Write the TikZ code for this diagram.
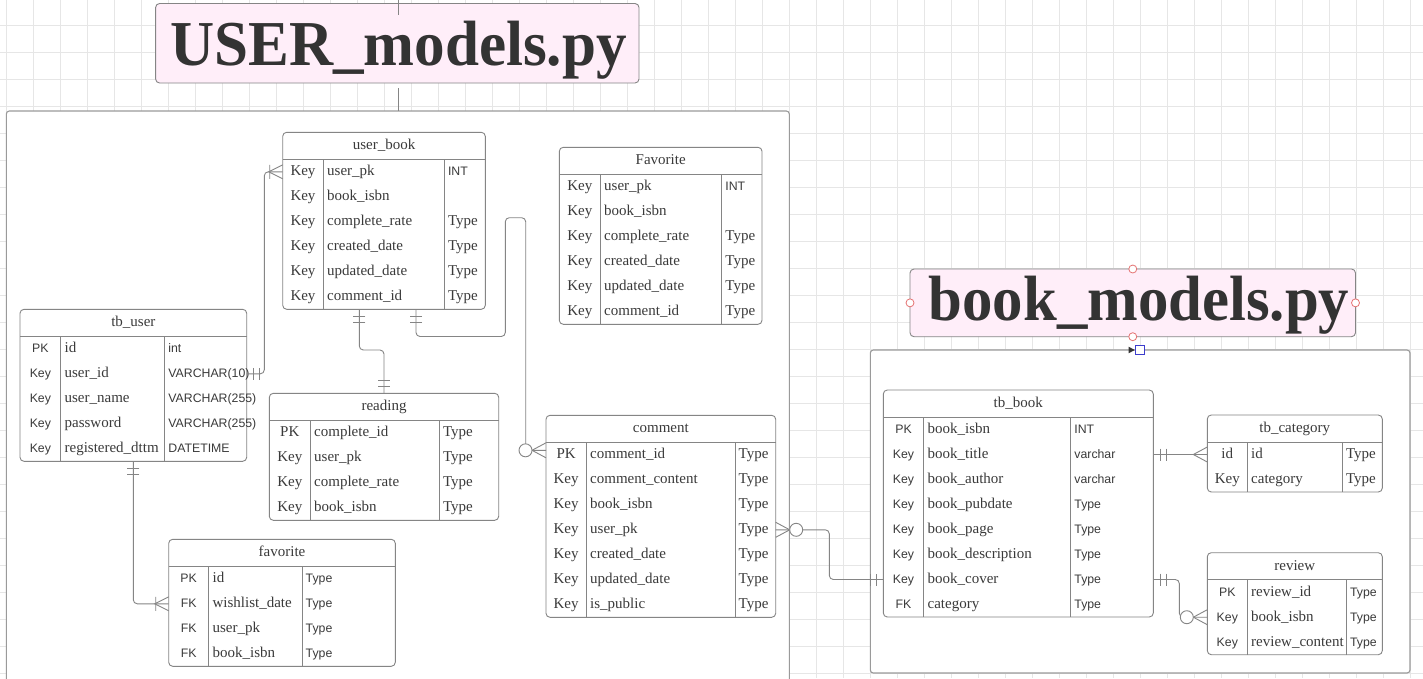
\documentclass[tikz,border=0pt]{standalone}
\usepackage{fontspec}
\setmainfont{Liberation Serif}
\newfontfamily\sansf{Liberation Sans}
\usetikzlibrary{calc}

\definecolor{gridc}{HTML}{E6E6E6}
\definecolor{linec}{HTML}{858585}
\definecolor{txtc}{HTML}{3A3A3A}
\definecolor{titlec}{HTML}{333333}
\definecolor{pinkc}{HTML}{FFEEF9}
\definecolor{contc}{HTML}{9A9A9A}
\definecolor{handlec}{HTML}{E57373}
\definecolor{bluec}{HTML}{3D3DCC}

\tikzset{
  tline/.style={draw=linec, line width=0.9pt},
  conn/.style={draw=linec, line width=0.9pt, rounded corners=4pt},
  tblbox/.style={draw=linec, line width=0.9pt, fill=white, rounded corners=4pt, inner sep=0pt, outer sep=0pt},
  contbox/.style={draw=contc, line width=1.1pt, fill=white, rounded corners=3pt, inner sep=0pt, outer sep=0pt},
  titlebox/.style={draw=linec, line width=0.9pt, fill=pinkc, rounded corners=4pt, inner sep=0pt, outer sep=0pt},
  titletxt/.style={font=\bfseries\fontsize{64}{64}\selectfont, text=titlec, inner sep=0pt, anchor=base, xscale=0.95},
  sertxt/.style={font=\fontsize{15}{18}\selectfont, text=txtc, inner sep=0pt, anchor=base},
  santxt/.style={font=\sansf\fontsize{12.3}{14}\selectfont, text=txtc, inner sep=0pt, anchor=base},
  handle/.style={draw=handlec, line width=0.8pt, fill=white},
}

% table: #1 name, #2 left, #3 top, #4 right, #5 col1, #6 col2, #7 rows, #8 title
\newcommand\ertbl[8]{%
  \pgfmathsetmacro\ertB{#3+27+25*#7}%
  \pgfmathsetmacro\ertH{#3+27}%
  \pgfmathsetmacro\ertW{#4-#2}%
  \pgfmathsetmacro\ertHt{27+25*#7}%
  \pgfmathsetmacro\ertMx{(#2+#4)/2}%
  \pgfmathsetmacro\ertTy{#3+17.3}%
  \xdef\curL{#2}\xdef\curT{#3}\xdef\curR{#4}\xdef\curA{#5}\xdef\curB{#6}\xdef\curN{#1}%
  \node[tblbox, minimum width=\ertW pt, minimum height=\ertHt pt, anchor=north west] (#1) at (#2,#3) {};
  \draw[tline] (#2,\ertH) -- (#4,\ertH) (#5,\ertH) -- (#5,\ertB) (#6,\ertH) -- (#6,\ertB);
  \node[sertxt] (#1-title) at (\ertMx,\ertTy) {#8};
}
% row: #1 index, #2 key style, #3 key, #4 field, #5 type style, #6 type
\newcommand\errow[6]{%
  \pgfmathsetmacro\erY{\curT+27+25*(#1-0.5)}%
  \pgfmathsetmacro\erYb{\erY+3.8}%
  \pgfmathsetmacro\erKx{(\curL+\curA)/2}%
  \pgfmathsetmacro\erFx{\curA+3.7}%
  \pgfmathsetmacro\erTx{\curB+3.5}%
  \coordinate (\curN-r#1-w) at (\curL,\erY);
  \coordinate (\curN-r#1-e) at (\curR,\erY);
  \node[#2] (\curN-k#1) at (\erKx,\erYb) {#3};
  \node[sertxt, anchor=base west] (\curN-f#1) at (\erFx,\erYb) {#4};
  \node[#5, anchor=base west] (\curN-t#1) at (\erTx,\erYb) {#6};
}
% markers: #1 coordinate, #2 direction angle
\newcommand\mkone[2]{\begin{scope}[shift={(#1)}, rotate=#2]
  \draw[tline] (7,-6) -- (7,6) (13,-6) -- (13,6);
\end{scope}}
\newcommand\mkmany[2]{\begin{scope}[shift={(#1)}, rotate=#2]
  \draw[tline] (0,-7) -- (14,0) -- (0,7) (13,-7) -- (13,7);
\end{scope}}
\newcommand\mkcrow[2]{\begin{scope}[shift={(#1)}, rotate=#2]
  \draw[tline] (0,-7.5) -- (14,0) -- (0,7.5);
\end{scope}}
\newcommand\mkzero[2]{\begin{scope}[shift={(#1)}, rotate=#2]
  \draw[tline] (0,-7.5) -- (14,0) -- (0,7.5);
  \draw[tline, fill=white] (20.5,0) circle[radius=6.5pt];
\end{scope}}

\begin{document}
\begin{tikzpicture}[x=1pt, y=-1pt]
\fill[white] (0,0) rectangle (1423,678);
\useasboundingbox (0,0) rectangle (1423,678);
% grid
\foreach \gx in {0,...,52} \draw[gridc, line width=0.9pt] ({6.3+27*\gx},0) -- ({6.3+27*\gx},678);
\foreach \gy in {0,...,24} \draw[gridc, line width=0.9pt] (0,{25.3+27*\gy}) -- (1423,{25.3+27*\gy});

% containers
\node[contbox, minimum width=783pt, minimum height=600pt, anchor=north west] (usercont) at (6.3,111) {};
\node[contbox, minimum width=539.7pt, minimum height=323pt, anchor=north west] (bookcont) at (870.3,350) {};

% titles
\node[titlebox, minimum width=483.4pt, minimum height=79.5pt, anchor=north west] (usertitle) at (155.6,3.5) {};
\node[titletxt, xscale=1.005] (usertitletxt) at (398.5,65) {USER\_models.py};
\coordinate (topedge) at (398,0);
\draw[tline] (topedge) -- ($(topedge)+(0,15)$);
\draw[tline] ($(usertitle.south)+(0.7,5)$) -- ($(usertitle.south |- usercont.north)+(0.7,0)$);

\node[titlebox, minimum width=445.5pt, minimum height=67.7pt, anchor=north west] (booktitle) at (910,269) {};
\node[titletxt] (booktitletxt) at (1139,320) {book\_models.py};
\foreach \a in {north,south,west,east} \draw[handle] (booktitle.\a) circle[radius=4pt];
\fill[titlec] (1128.6,346.7) -- (1134.7,350) -- (1128.6,353.3) -- cycle;
\draw[bluec, fill=white, line width=0.9pt] (1135.4,345.7) rectangle (1144.5,354.3);

% tables
\ertbl{tbuser}{20}{309.3}{246.7}{60.7}{164.7}{5}{tb\_user}
\errow{1}{santxt}{PK}{id}{santxt}{int}
\errow{2}{santxt}{Key}{user\_id}{santxt}{VARCHAR(10)}
\errow{3}{santxt}{Key}{user\_name}{santxt}{VARCHAR(255)}
\errow{4}{santxt}{Key}{password}{santxt}{VARCHAR(255)}
\errow{5}{santxt}{Key}{registered\_dttm}{santxt}{DATETIME}

\ertbl{userbook}{282.7}{132.3}{485.3}{323.3}{444.3}{6}{user\_book}
\errow{1}{sertxt}{Key}{user\_pk}{santxt}{INT}
\errow{2}{sertxt}{Key}{book\_isbn}{sertxt}{}
\errow{3}{sertxt}{Key}{complete\_rate}{sertxt}{Type}
\errow{4}{sertxt}{Key}{created\_date}{sertxt}{Type}
\errow{5}{sertxt}{Key}{updated\_date}{sertxt}{Type}
\errow{6}{sertxt}{Key}{comment\_id}{sertxt}{Type}

\ertbl{favcap}{559.3}{147.3}{762}{600.3}{721.7}{6}{Favorite}
\errow{1}{sertxt}{Key}{user\_pk}{santxt}{INT}
\errow{2}{sertxt}{Key}{book\_isbn}{sertxt}{}
\errow{3}{sertxt}{Key}{complete\_rate}{sertxt}{Type}
\errow{4}{sertxt}{Key}{created\_date}{sertxt}{Type}
\errow{5}{sertxt}{Key}{updated\_date}{sertxt}{Type}
\errow{6}{sertxt}{Key}{comment\_id}{sertxt}{Type}

\ertbl{reading}{269.3}{393.3}{498.7}{310.3}{439.3}{4}{reading}
\errow{1}{sertxt}{PK}{complete\_id}{sertxt}{Type}
\errow{2}{sertxt}{Key}{user\_pk}{sertxt}{Type}
\errow{3}{sertxt}{Key}{complete\_rate}{sertxt}{Type}
\errow{4}{sertxt}{Key}{book\_isbn}{sertxt}{Type}

\ertbl{comment}{546}{415.3}{775.7}{586.3}{735}{7}{comment}
\errow{1}{sertxt}{PK}{comment\_id}{sertxt}{Type}
\errow{2}{sertxt}{Key}{comment\_content}{sertxt}{Type}
\errow{3}{sertxt}{Key}{book\_isbn}{sertxt}{Type}
\errow{4}{sertxt}{Key}{user\_pk}{sertxt}{Type}
\errow{5}{sertxt}{Key}{created\_date}{sertxt}{Type}
\errow{6}{sertxt}{Key}{updated\_date}{sertxt}{Type}
\errow{7}{sertxt}{Key}{is\_public}{sertxt}{Type}

\ertbl{favorite}{168.7}{539.3}{395.3}{208.7}{302}{4}{favorite}
\errow{1}{santxt}{PK}{id}{santxt}{Type}
\errow{2}{santxt}{FK}{wishlist\_date}{santxt}{Type}
\errow{3}{santxt}{FK}{user\_pk}{santxt}{Type}
\errow{4}{santxt}{FK}{book\_isbn}{santxt}{Type}

\ertbl{tbbook}{883.3}{390}{1153.3}{923.7}{1070.7}{8}{tb\_book}
\errow{1}{santxt}{PK}{book\_isbn}{santxt}{INT}
\errow{2}{santxt}{Key}{book\_title}{santxt}{varchar}
\errow{3}{santxt}{Key}{book\_author}{santxt}{varchar}
\errow{4}{santxt}{Key}{book\_pubdate}{santxt}{Type}
\errow{5}{santxt}{Key}{book\_page}{santxt}{Type}
\errow{6}{santxt}{Key}{book\_description}{santxt}{Type}
\errow{7}{santxt}{Key}{book\_cover}{santxt}{Type}
\errow{8}{santxt}{FK}{category}{santxt}{Type}

\ertbl{tbcat}{1207.3}{415}{1382.3}{1247.3}{1342.3}{2}{tb\_category}
\errow{1}{sertxt}{id}{id}{sertxt}{Type}
\errow{2}{sertxt}{Key}{category}{sertxt}{Type}

\ertbl{review}{1207.3}{552.7}{1382.3}{1247.3}{1346.3}{3}{review}
\errow{1}{santxt}{PK}{review\_id}{santxt}{Type}
\errow{2}{santxt}{Key}{book\_isbn}{santxt}{Type}
\errow{3}{santxt}{Key}{review\_content}{santxt}{Type}

% connector anchor points
\coordinate (tbuser-bot) at ($(tbuser.south west)+(113.3,0)$);
\coordinate (ub-b1) at ($(userbook.south west)+(76.6,0)$);
\coordinate (ub-b2) at ($(userbook.south west)+(133.3,0)$);
\coordinate (rd-top) at ($(reading.north west)+(114.7,0)$);
\coordinate (cmtin) at ($(comment.north west)+(0,35)$);

% connectors
\draw[conn] (tbuser-r2-e) -- ++(17.6,0) |- (userbook-r1-w);
\draw[conn] (tbuser-bot) |- (favorite-r2-w);
\draw[conn] (ub-b1) -- ++(0,40.7) -| (rd-top);
\draw[conn] (ub-b2) |- ($(ub-b2)+(89.3,27.2)$) |- ($(ub-b2)+(109.7,-91.6)$) |- (cmtin);
\draw[conn] (comment-r4-e) -- ++(53.6,0) |- (tbbook-r7-w);
\draw[conn] (tbbook-r2-e) -- (tbcat-r1-w);
\draw[conn] (tbbook-r7-e) -- ++(26,0) |- (review-r2-w);

% markers
\mkone{tbuser-r2-e}{0}
\mkmany{userbook-r1-w}{180}
\mkone{tbuser-bot}{-90}
\mkmany{favorite-r2-w}{180}
\mkone{ub-b1}{-90}
\mkone{rd-top}{90}
\mkone{ub-b2}{-90}
\mkzero{cmtin}{180}
\mkzero{comment-r4-e}{0}
\mkone{tbbook-r7-w}{180}
\mkone{tbbook-r2-e}{0}
\mkcrow{tbcat-r1-w}{180}
\mkone{tbbook-r7-e}{0}
\mkzero{review-r2-w}{180}
\end{tikzpicture}
\end{document}
